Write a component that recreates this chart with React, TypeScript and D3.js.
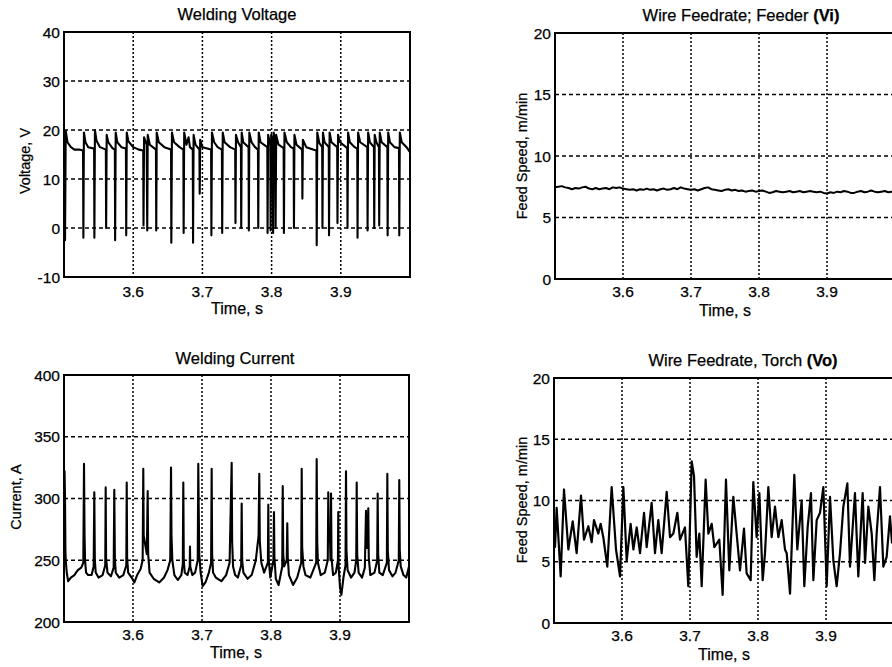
import React from 'react';
import * as d3 from 'd3';

type Pt = [number, number];

const timeTicks = [3.6, 3.7, 3.8, 3.9];
const timeDomain: [number, number] = [3.5, 4.0];
const voltageTicks = [-10, 0, 10, 20, 30, 40];
const currentTicks = [200, 250, 300, 350, 400];
const feedTicks = [0, 5, 10, 15, 20];

// Welding voltage (s, V)
const voltage: Pt[] = [
  [3.5, 18.5], [3.5005, 19.5], [3.5015, -2.5], [3.5025, 19.8], [3.505, 17.5], [3.51, 16.5], [3.515, 16], [3.522, 16], [3.5275, 15.8],
  [3.528, -2], [3.5288, 19.5], [3.531, 17.5], [3.535, 16.5], [3.5435, 16.2],
  [3.5439, -2], [3.5447, 20], [3.547, 17.8], [3.552, 16.5], [3.5605, 16],
  [3.5609, 0], [3.5617, 19], [3.564, 17.5], [3.57, 16.3], [3.5735, 16],
  [3.5739, -2.5], [3.5747, 19.5], [3.577, 17.5], [3.583, 16.5], [3.5895, 16.2],
  [3.5899, -1.5], [3.5907, 19.5], [3.593, 17.7], [3.6, 16.5], [3.608, 16], [3.6145, 15.8],
  [3.6149, 0.5], [3.6157, 18.5], [3.6195, 17],
  [3.6203, -0.5], [3.621, 19], [3.624, 17], [3.6329, 16],
  [3.6333, -0.5], [3.634, 19.5], [3.637, 17.5], [3.645, 16.5], [3.6547, 16],
  [3.6551, -3], [3.656, 19.5], [3.659, 17.5], [3.667, 16.5], [3.6725, 16],
  [3.6729, -1], [3.6737, 19.5], [3.677, 17], [3.68, 18.5], [3.682, 16.5], [3.6861, 16],
  [3.6865, -3], [3.6873, 19], [3.69, 17], [3.6957, 16],
  [3.6961, 7], [3.6968, 18], [3.7, 16.5], [3.7126, 16],
  [3.713, -1.5], [3.7138, 19.5], [3.717, 17.5], [3.722, 16.5], [3.7282, 16],
  [3.7286, -1], [3.7294, 19.5], [3.732, 17.5], [3.74, 16.5], [3.7474, 16],
  [3.7478, 1], [3.7485, 19], [3.7515, 17.5], [3.7557, 16.5],
  [3.7561, 0], [3.7568, 19.5], [3.759, 17.5], [3.7667, 16.5],
  [3.7671, -0.5], [3.7678, 19.5], [3.771, 17.5], [3.776, 16.5], [3.7803, 16],
  [3.7807, 0], [3.7814, 19.5], [3.784, 17.5], [3.7938, 16.5],
  [3.7942, -1], [3.795, 19], [3.7982, 17],
  [3.7986, -0.5], [3.7994, 19], [3.8018, 17],
  [3.8022, -1], [3.803, 19.5], [3.8054, 17],
  [3.8058, 0], [3.8066, 19], [3.81, 17], [3.8174, 16.3],
  [3.8178, -1], [3.8186, 19.5], [3.822, 17.5], [3.828, 16.5], [3.8319, 16.2],
  [3.8323, 0], [3.833, 19], [3.836, 17], [3.8441, 16],
  [3.8445, 6], [3.8452, 18], [3.85, 16.5], [3.86, 16], [3.8648, 15.8],
  [3.8652, -3.5], [3.866, 19.5], [3.869, 17.3], [3.8731, 16.5],
  [3.8735, 0], [3.8742, 19.5], [3.8765, 17.5], [3.8826, 16.5],
  [3.883, -1.5], [3.8838, 19.5], [3.8865, 17.5], [3.8948, 16.5],
  [3.8952, 1], [3.896, 19], [3.899, 17.5], [3.9093, 16.3],
  [3.9097, 0], [3.9105, 19.5], [3.913, 17.5], [3.92, 16.5], [3.9238, 16.2],
  [3.9242, -2], [3.925, 19.5], [3.928, 17.5], [3.9383, 16.5],
  [3.9387, -0.5], [3.9395, 19.5], [3.942, 17.5], [3.9479, 16.5],
  [3.9483, 0], [3.949, 19], [3.9515, 17.5], [3.9551, 16.5],
  [3.9555, 0.5], [3.9563, 19.5], [3.959, 17.5], [3.9673, 16.5],
  [3.9677, -1.5], [3.9685, 19.5], [3.971, 17.5], [3.9775, 16.5], [3.9841, 16.3],
  [3.9845, -1.5], [3.9853, 19.5], [3.988, 17.5], [3.995, 16.5], [4.0, 15.5],
];

// Welding current (s, A)
const current: Pt[] = [
  [3.5, 318], [3.5008, 322], [3.5015, 300], [3.502, 260], [3.5025, 250], [3.504, 240], [3.506, 233], [3.51, 236], [3.515, 238], [3.52, 242], [3.525, 244], [3.528, 248],
  [3.529, 328], [3.5298, 270], [3.5305, 250], [3.532, 240], [3.535, 238], [3.54, 238], [3.543, 245],
  [3.5439, 305], [3.5447, 250], [3.546, 240], [3.55, 236], [3.556, 238], [3.5598, 246],
  [3.5604, 309], [3.561, 252], [3.563, 240], [3.568, 237], [3.572, 244],
  [3.5729, 307], [3.5737, 252], [3.575, 240], [3.58, 236], [3.586, 238], [3.5903, 246],
  [3.5909, 313], [3.5915, 252], [3.593, 240], [3.598, 236], [3.602, 232], [3.606, 238], [3.611, 243], [3.614, 250],
  [3.6149, 324], [3.6155, 270], [3.617, 265], [3.62, 255],
  [3.6213, 306], [3.622, 255], [3.624, 240], [3.63, 235], [3.638, 232], [3.645, 236], [3.65, 242], [3.654, 250],
  [3.6551, 325], [3.6558, 270], [3.657, 250], [3.66, 238], [3.665, 234], [3.67, 238], [3.6722, 247],
  [3.6729, 313], [3.6736, 250], [3.675, 240], [3.679, 238], [3.6822, 245],
  [3.6826, 261], [3.683, 245], [3.686, 238], [3.69, 240], [3.6938, 250],
  [3.6946, 328], [3.6953, 290], [3.696, 255], [3.698, 240], [3.701, 229], [3.705, 232], [3.71, 240], [3.7132, 248],
  [3.714, 324], [3.7147, 255], [3.716, 240], [3.72, 236], [3.728, 233], [3.735, 238], [3.74, 248],
  [3.743, 329], [3.7437, 265], [3.745, 245], [3.748, 238], [3.752, 236], [3.7568, 246],
  [3.7575, 296], [3.7582, 250], [3.76, 240], [3.766, 235], [3.772, 238], [3.778, 250], [3.782, 270],
  [3.783, 320], [3.7838, 265], [3.786, 248], [3.79, 240], [3.7955, 248],
  [3.7961, 295], [3.7968, 250], [3.799, 236], [3.8035, 250],
  [3.8043, 289], [3.805, 252], [3.807, 235], [3.811, 230], [3.8163, 245],
  [3.817, 310], [3.8177, 255], [3.819, 245], [3.8228, 250],
  [3.8236, 280], [3.8243, 252], [3.826, 238], [3.832, 230], [3.838, 236], [3.8438, 248],
  [3.8445, 324], [3.8452, 260], [3.847, 245], [3.85, 238], [3.857, 236], [3.8655, 248],
  [3.8662, 332], [3.867, 265], [3.868, 248], [3.872, 238], [3.878, 240], [3.8823, 250],
  [3.883, 305], [3.8837, 265], [3.8855, 268], [3.8862, 250],
  [3.887, 304], [3.8877, 252], [3.89, 238], [3.894, 240], [3.897, 250],
  [3.8975, 289], [3.898, 245], [3.9, 228], [3.902, 222], [3.905, 236], [3.908, 246],
  [3.9087, 322], [3.9094, 258], [3.911, 242], [3.916, 236], [3.921, 240], [3.9235, 250],
  [3.9242, 313], [3.9249, 255], [3.927, 240], [3.932, 236], [3.936, 244],
  [3.9377, 290], [3.9385, 260], [3.9402, 260],
  [3.941, 292], [3.9417, 252], [3.944, 238], [3.95, 240], [3.9539, 250],
  [3.9546, 304], [3.9553, 255], [3.957, 240], [3.962, 238], [3.9679, 248],
  [3.9686, 320], [3.9693, 258], [3.971, 242], [3.976, 237], [3.9805, 240], [3.9852, 250],
  [3.9859, 315], [3.9866, 258], [3.988, 245], [3.992, 238], [3.996, 236], [4.0, 245],
];

// Wire feedrate at feeder (s, m/min)
const feeder: Pt[] = [
  [3.5, 7.45], [3.505, 7.5], [3.51, 7.55], [3.515, 7.45], [3.52, 7.4], [3.525, 7.3], [3.53, 7.4], [3.535, 7.35], [3.54, 7.45],
  [3.545, 7.5], [3.55, 7.35], [3.555, 7.3], [3.56, 7.4], [3.565, 7.3], [3.57, 7.35], [3.575, 7.4], [3.58, 7.3], [3.585, 7.45],
  [3.59, 7.4], [3.595, 7.45], [3.6, 7.35], [3.605, 7.3], [3.61, 7.25], [3.615, 7.3], [3.62, 7.2], [3.625, 7.3], [3.63, 7.25],
  [3.635, 7.35], [3.64, 7.25], [3.645, 7.3], [3.65, 7.2], [3.655, 7.3], [3.66, 7.35], [3.665, 7.25], [3.67, 7.3], [3.675, 7.4],
  [3.68, 7.3], [3.685, 7.45], [3.69, 7.35], [3.695, 7.3], [3.7, 7.25], [3.705, 7.3], [3.71, 7.2], [3.715, 7.3], [3.72, 7.4],
  [3.725, 7.45], [3.73, 7.3], [3.735, 7.25], [3.74, 7.2], [3.745, 7.15], [3.75, 7.25], [3.755, 7.3], [3.76, 7.2], [3.765, 7.25],
  [3.77, 7.15], [3.775, 7.2], [3.78, 7.1], [3.785, 7.15], [3.79, 7.2], [3.795, 7.1], [3.8, 7.15], [3.805, 7.2], [3.81, 7.1],
  [3.815, 7.0], [3.82, 7.05], [3.825, 7.15], [3.83, 7.1], [3.835, 7.05], [3.84, 7.1], [3.845, 7.15], [3.85, 7.05], [3.855, 7.1],
  [3.86, 7.15], [3.865, 7.05], [3.87, 7.1], [3.875, 7.15], [3.88, 7.1], [3.885, 7.05], [3.89, 7.1], [3.895, 7.0], [3.9, 6.95],
  [3.905, 7.05], [3.91, 7.0], [3.915, 7.1], [3.92, 7.05], [3.925, 7.15], [3.93, 7.1], [3.935, 7.0], [3.94, 7.0], [3.945, 7.1],
  [3.95, 7.15], [3.955, 7.05], [3.96, 7.1], [3.965, 7.2], [3.97, 7.1], [3.975, 7.05], [3.98, 7.1], [3.985, 7.15], [3.99, 7.05],
  [3.995, 7.1], [4.0, 7.1],
];

// Wire feedrate at torch (s, m/min)
const torch: Pt[] = [
  [3.5, 7.5], [3.5015, 6.2], [3.5039, 9.4], [3.5098, 3.8], [3.5147, 10.9], [3.5211, 6.0], [3.5275, 8.3], [3.5333, 5.7], [3.5397, 10.4],
  [3.5441, 6.8], [3.5505, 7.9], [3.5554, 6.6], [3.5588, 8.4], [3.5652, 7.3], [3.5686, 8.1], [3.5725, 7.0], [3.5784, 4.6], [3.5848, 11.1],
  [3.5912, 6.0], [3.5971, 3.8], [3.602, 11.1], [3.6069, 5.1], [3.6127, 8.1], [3.6167, 6.0], [3.6216, 7.8], [3.6265, 5.7], [3.6324, 9.0],
  [3.6363, 6.2], [3.6436, 9.8], [3.6485, 5.7], [3.6534, 8.4], [3.6583, 5.7], [3.6657, 10.7], [3.6706, 7.0], [3.6755, 7.3], [3.6814, 9.0],
  [3.6853, 6.8], [3.6926, 7.8], [3.6975, 3.0], [3.7025, 13.2], [3.7059, 12.0], [3.7098, 5.4], [3.7137, 7.3], [3.7172, 3.0], [3.723, 11.7],
  [3.727, 7.3], [3.7319, 8.1], [3.7358, 6.2], [3.7431, 6.8], [3.748, 2.3], [3.7529, 11.7], [3.7578, 4.3], [3.7637, 10.3], [3.7686, 7.3],
  [3.7735, 4.3], [3.7794, 7.7], [3.7833, 4.05], [3.7892, 3.5], [3.7931, 11.5], [3.798, 7.0], [3.802, 10.6], [3.8069, 3.5], [3.8103, 5.7],
  [3.8152, 11.1], [3.8201, 7.0], [3.825, 9.5], [3.8299, 7.0], [3.8348, 8.4], [3.8397, 6.0], [3.8422, 5.7], [3.8471, 2.4], [3.8534, 12.1],
  [3.8578, 6.0], [3.8642, 10.0], [3.8681, 3.0], [3.873, 7.8], [3.8779, 10.6], [3.8814, 3.5], [3.8863, 8.4], [3.8912, 9.0], [3.8961, 11.1],
  [3.901, 3.0], [3.9059, 10.3], [3.9108, 5.1], [3.9157, 3.0], [3.9206, 5.7], [3.9255, 9.5], [3.9314, 11.4], [3.9353, 4.6], [3.9426, 10.6],
  [3.9475, 3.8], [3.9539, 10.6], [3.9574, 4.9], [3.9623, 9.5], [3.9672, 7.3], [3.9711, 3.5], [3.9745, 7.3], [3.9794, 11.1], [3.9843, 4.6],
  [3.9892, 5.4], [3.9941, 8.7], [3.9971, 6.5],
];

const FONT = '"Liberation Sans", Arial, Helvetica, sans-serif';

interface PanelProps {
  id: string;
  x0: number; x1: number; y0: number; y1: number;
  yDomain: [number, number];
  yTicks: number[];
  data: Pt[];
  lineWidth: number;
  title: React.ReactNode;
  titleX: number; titleY: number;
  yLabel: string; yLabelX: number; yLabelY: number;
  tickY: number; xLabelY: number; xLabelX: number;
}

const textStyle = { fontFamily: FONT, stroke: '#000', strokeWidth: 0.25 } as React.CSSProperties;

function Panel(p: PanelProps) {
  const x = d3.scaleLinear().domain(timeDomain).range([p.x0, p.x1]);
  const y = d3.scaleLinear().domain(p.yDomain).range([p.y1, p.y0]);
  const line = d3.line<Pt>().x(d => x(d[0])).y(d => y(d[1]));
  const innerY = p.yTicks.filter(v => v !== p.yDomain[0] && v !== p.yDomain[1]);
  return (
    <g>
      <defs>
        <clipPath id={p.id}>
          <rect x={p.x0} y={p.y0} width={p.x1 - p.x0} height={p.y1 - p.y0} />
        </clipPath>
      </defs>
      {timeTicks.map(t => (
        <line key={'v' + t} x1={x(t)} x2={x(t)} y1={p.y0} y2={p.y1} stroke="#000" strokeWidth={1.5} strokeDasharray="2,2" />
      ))}
      {innerY.map(v => (
        <line key={'h' + v} x1={p.x0} x2={p.x1} y1={y(v)} y2={y(v)} stroke="#000" strokeWidth={1.4} strokeDasharray="4,3" />
      ))}
      <path d={line(p.data) || ''} fill="none" stroke="#000" strokeWidth={p.lineWidth} strokeLinejoin="round" clipPath={`url(#${p.id})`} />
      <rect x={p.x0} y={p.y0} width={p.x1 - p.x0} height={p.y1 - p.y0} fill="none" stroke="#000" strokeWidth={2} />
      {p.yTicks.map(v => (
        <text key={'yl' + v} x={p.x0 - 4} y={y(v)} dy="0.36em" textAnchor="end" fontSize={15.5} style={textStyle}>
          {String(v)}
        </text>
      ))}
      {timeTicks.map(t => (
        <text key={'xl' + t} x={x(t)} y={p.tickY} textAnchor="middle" fontSize={15.5} style={textStyle}>
          {t.toFixed(1)}
        </text>
      ))}
      <text x={p.xLabelX} y={p.xLabelY} textAnchor="middle" fontSize={16} style={textStyle}>Time, s</text>
      <text x={p.titleX} y={p.titleY} textAnchor="middle" fontSize={16.5} style={textStyle}>{p.title}</text>
      <text transform={`translate(${p.yLabelX},${p.yLabelY}) rotate(-90)`} textAnchor="middle" fontSize={14.5} style={textStyle}>
        {p.yLabel}
      </text>
    </g>
  );
}

export default function App() {
  return (
    <svg width={892} height={667} style={{ position: 'absolute', left: 0, top: 0, background: '#fff' }}>
      <rect x={0} y={0} width={892} height={667} fill="#fff" />
      <Panel id="c1" x0={64} x1={410} y0={32} y1={277} yDomain={[-10, 40]} yTicks={voltageTicks} data={voltage} lineWidth={2.1}
        title="Welding Voltage" titleX={237} titleY={20}
        yLabel="Voltage, V" yLabelX={30} yLabelY={161}
        tickY={297} xLabelX={237} xLabelY={314} />
      <Panel id="c2" x0={555} x1={895} y0={33} y1={279} yDomain={[0, 20]} yTicks={feedTicks} data={feeder} lineWidth={2}
        title={<><tspan>Wire Feedrate; Feeder </tspan><tspan fontWeight="bold">(Vi)</tspan></>} titleX={741} titleY={21}
        yLabel="Feed Speed, m/min" yLabelX={527} yLabelY={156}
        tickY={297} xLabelX={725} xLabelY={316} />
      <Panel id="c3" x0={64} x1={409} y0={375} y1={622} yDomain={[200, 400]} yTicks={currentTicks} data={current} lineWidth={2.1}
        title="Welding Current" titleX={235} titleY={364}
        yLabel="Current, A" yLabelX={21} yLabelY={497}
        tickY={640} xLabelX={236} xLabelY={658} />
      <Panel id="c4" x0={554} x1={894} y0={378} y1={623} yDomain={[0, 20]} yTicks={feedTicks} data={torch} lineWidth={2.2}
        title={<><tspan>Wire Feedrate, Torch </tspan><tspan fontWeight="bold">(Vo)</tspan></>} titleX={743} titleY={366}
        yLabel="Feed Speed, m/min" yLabelX={527} yLabelY={500}
        tickY={641} xLabelX={724} xLabelY={660} />
    </svg>
  );
}
